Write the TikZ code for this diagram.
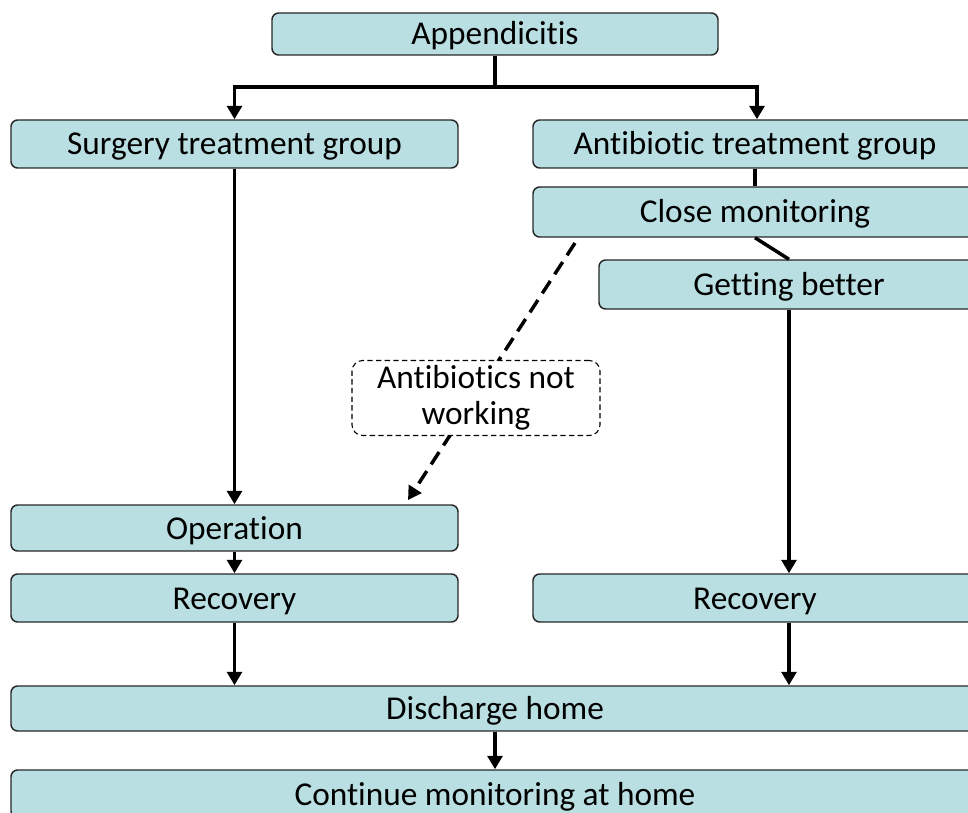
\documentclass[tikz,border=0pt]{standalone}
\usepackage{fontspec}
\setmainfont{Carlito}[Ligatures={NoCommon,NoRequired,NoContextual}]
\usetikzlibrary{arrows.meta,calc}
\definecolor{boxfill}{RGB}{185,223,226}
\definecolor{boxline}{RGB}{40,40,40}
\begin{document}
\begin{tikzpicture}[x=0.75pt,y=-0.75pt,
  stepbox/.style={draw=boxline, line width=1.1pt, fill=boxfill, rounded corners=5pt,
    inner sep=0pt, font=\fontsize{25}{29}\selectfont, text=black,
    text height=19pt, text depth=2.5pt},
  notebox/.style={draw=black, line width=0.8pt, dash pattern=on 4pt off 2.5pt, fill=white,
    rounded corners=8pt, inner sep=0pt, align=center,
    font=\fontsize{25}{27}\selectfont},
  link/.style={line width=2.6pt, draw=black},
  flow/.style={link, -{Triangle[length=10pt,width=11pt]}},
  dflow/.style={flow, dash pattern=on 11pt off 6pt}
]
\useasboundingbox (0,0) rectangle (968,813);
\clip (0,0) rectangle (968,813);

% treatment groups and steps
\node[stepbox, minimum width=446*0.75pt, minimum height=42*0.75pt] (app) at (495,34) {Appendicitis};
\node[stepbox, minimum width=447*0.75pt, minimum height=48*0.75pt] (surg) at (234.5,144) {Surgery treatment group};
\node[stepbox, minimum width=444*0.75pt, minimum height=48*0.75pt] (anti) at (755,144) {Antibiotic treatment group};
\node[stepbox, minimum width=444*0.75pt, minimum height=50*0.75pt] (close) at (755,212) {Close monitoring};
\node[stepbox, minimum width=380*0.75pt, minimum height=49*0.75pt] (better) at (789,284.5) {Getting better};
\node[stepbox, minimum width=447*0.75pt, minimum height=46*0.75pt] (op) at (234.5,528) {Operation};
\node[stepbox, minimum width=447*0.75pt, minimum height=48*0.75pt] (recl) at (234.5,598) {Recovery};
\node[stepbox, minimum width=444*0.75pt, minimum height=48*0.75pt] (recr) at (755,598) {Recovery};
\node[stepbox, minimum width=968*0.75pt, minimum height=45*0.75pt] (dis) at (495,708.5) {Discharge home};
\node[stepbox, minimum width=968*0.75pt, minimum height=48*0.75pt] (cont) at (495,794) {Continue monitoring at home};

% split into the two groups
\coordinate (split) at (495,87);
\draw[link] (app.south) -- (split);
\draw[flow] (split) -| (surg.north);
\draw[flow] (split) -| ($(anti.north)+(2,0)$);

% antibiotic branch
\draw[link] (anti.south) -- (close.north);
\draw[link] (close.south) -- (better.north);
\draw[flow] (better.south) -- (better.south |- recr.north);

% failed antibiotics lead to surgery
\coordinate (fail start) at (575,243);
\coordinate (fail end) at (408,500);
\draw[dflow] (fail start) -- (fail end);
\node[notebox, minimum width=248*0.75pt, minimum height=75*0.75pt] (notw) at (476,398) {Antibiotics not\\working};

% surgery branch
\draw[flow] (surg.south) -- (op.north);
\draw[flow] (op.south) -- (recl.north);

% both branches end at discharge
\draw[flow] (recl.south) -- (recl.south |- dis.north);
\draw[flow] (better.south |- recr.south) -- (better.south |- dis.north);
\draw[flow] (dis.south) -- (cont.north);
\end{tikzpicture}
\end{document}
